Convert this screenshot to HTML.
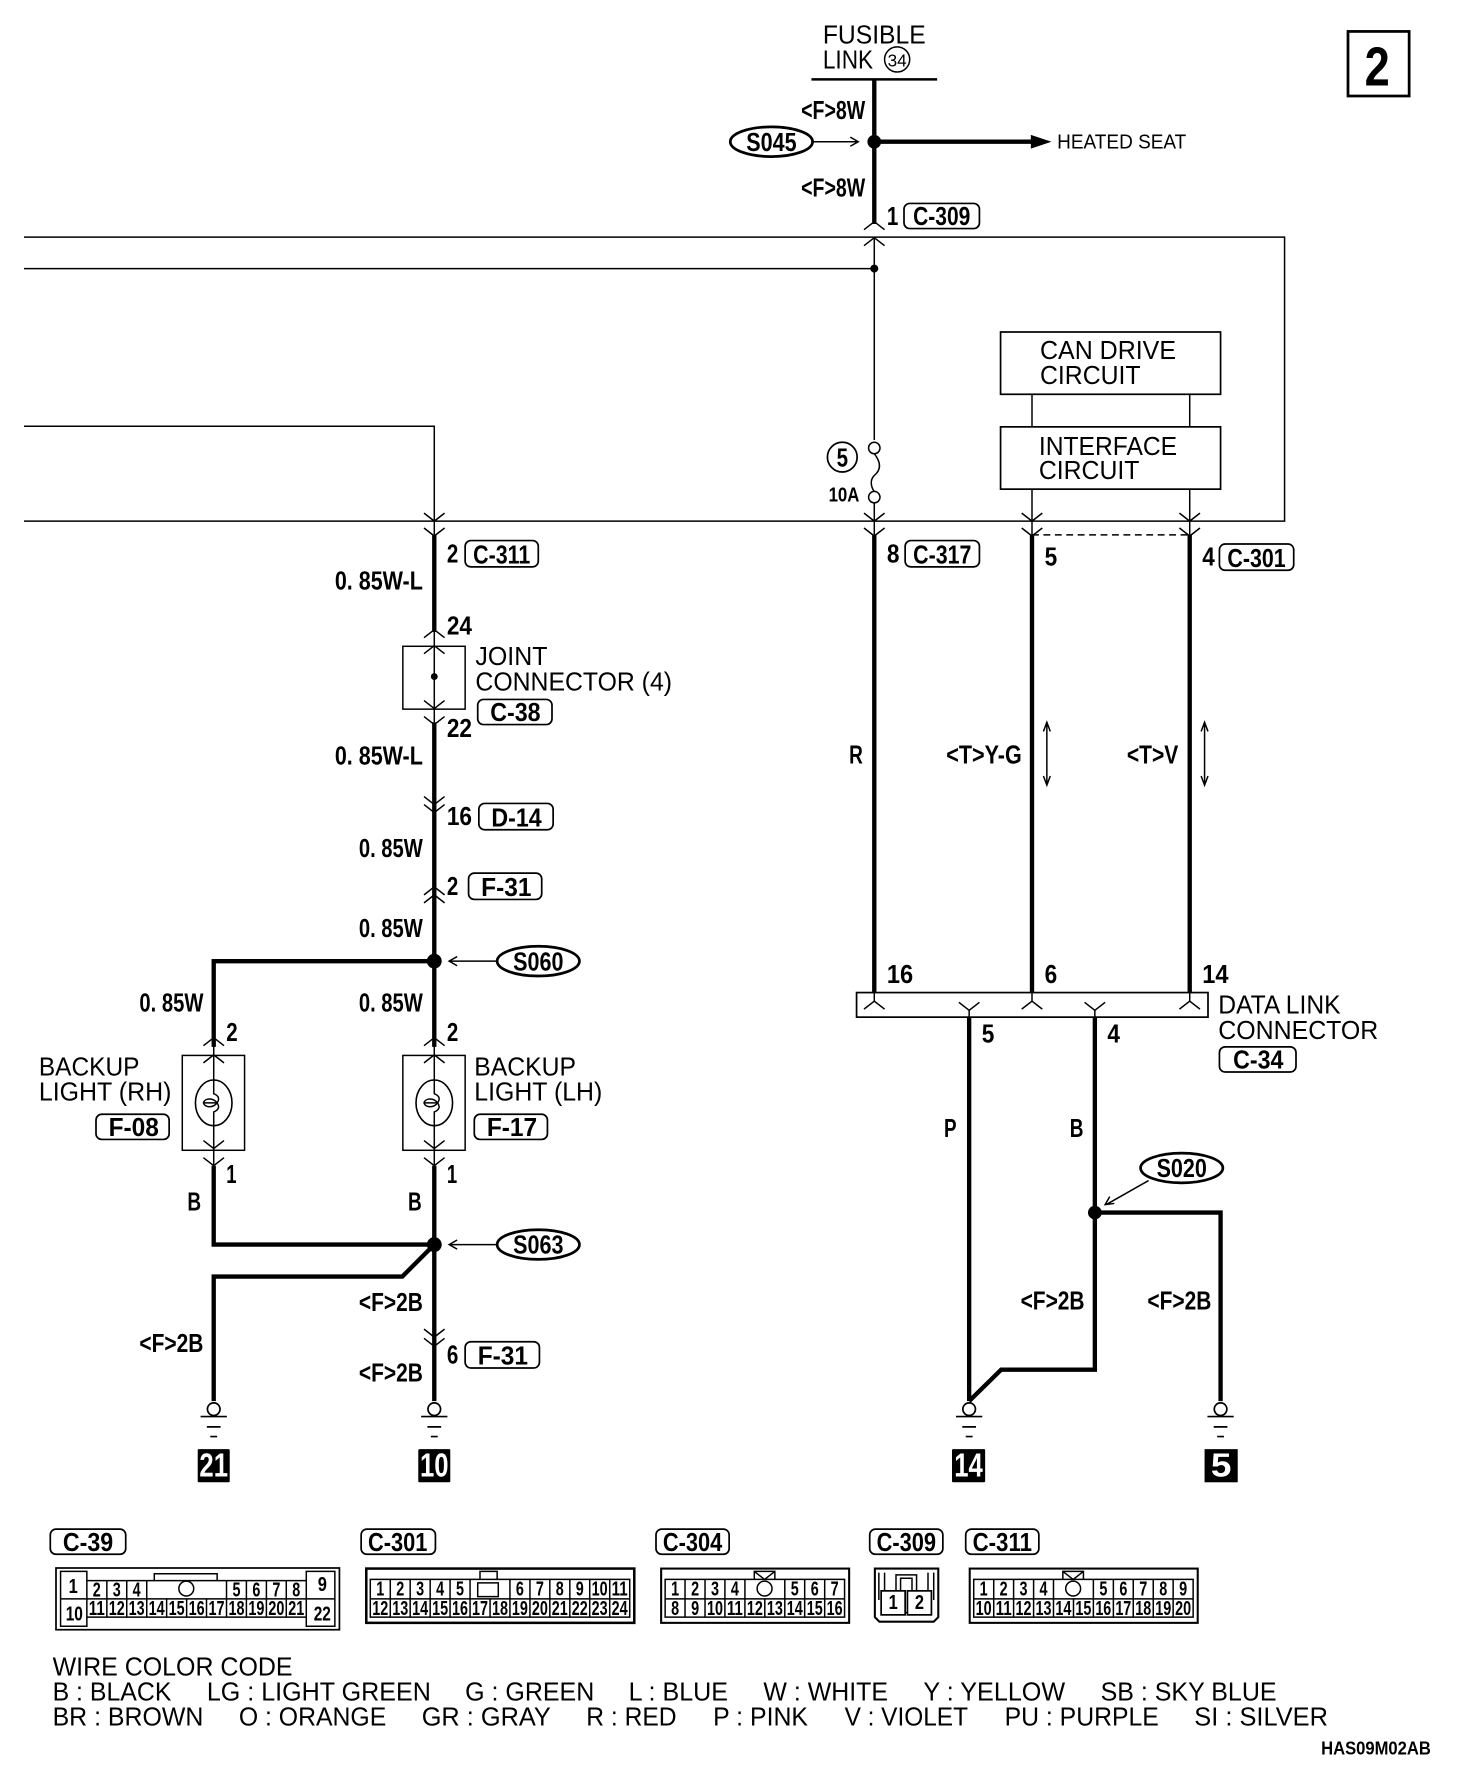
<!DOCTYPE html>
<html><head><meta charset="utf-8"><style>
html,body{margin:0;padding:0;background:#fff}
svg{display:block}
text{font-family:"Liberation Sans",sans-serif;fill:#000;stroke:none}
.r{font-size:22.5px}
.b{font-size:23px;font-weight:bold}
.c{font-size:18px;font-weight:bold;text-anchor:middle}
.t{fill:none;stroke:#000;stroke-width:1.3}
.w{fill:none;stroke:#000;stroke-width:3.8}
.bd{fill:#fff;stroke:#000;stroke-width:1.5}
.e{fill:#fff;stroke:#000;stroke-width:2.4}
</style></head><body>
<svg xmlns="http://www.w3.org/2000/svg" width="1472" height="1792" viewBox="0 0 1288 1568">
<defs>
<path id="u" d="M-9 7L0 0L9 7" fill="none" stroke="#000" stroke-width="1.3"/>
<path id="d" d="M-9 -7L0 0L9 -7" fill="none" stroke="#000" stroke-width="1.3"/>
<g id="g"><circle cx="0" cy="0" r="5.500" fill="#fff" stroke="#000" stroke-width="1.5"/><path d="M-11.500 6.500H11.500M-6 15.500H6M-3 24H3" stroke="#000" stroke-width="1.5" fill="none"/></g>
</defs>
<rect width="1288" height="1568" fill="#fff"/>

<!-- thin harness -->
<path class="t" d="M21 207.500H1124V456H21M21 235H765M21 373H380V456M765 207V385M903 345V373M1041 345V373M903 428V468M1041 428V468M765 440V468M380 456V468"/>
<path class="t" stroke-dasharray="6 4" d="M903 468H1041"/>
<circle cx="765" cy="235" r="3.5"/>

<!-- top -->
<rect x="1179.500" y="27.500" width="53.500" height="56.500" fill="#fff" stroke="#000" stroke-width="2.4"/>
<text x="1194" y="75" font-size="48" font-weight="bold" textLength="22" lengthAdjust="spacingAndGlyphs">2</text>
<text class="r" x="720" y="38" textLength="90" lengthAdjust="spacingAndGlyphs">FUSIBLE</text>
<text class="r" x="720" y="60" textLength="44" lengthAdjust="spacingAndGlyphs">LINK</text>
<circle cx="785" cy="52" r="11" fill="#fff" stroke="#000" stroke-width="1.3"/>
<text x="785" y="58" font-size="15" text-anchor="middle">34</text>
<path d="M710 69.500H820" stroke="#000" stroke-width="2.2"/>
<path class="w" d="M765 69V196M765 124H905"/>
<path d="M902 118L920 124L902 130Z"/>
<circle cx="765" cy="124" r="6"/>
<text class="b" x="701" y="104" textLength="56" lengthAdjust="spacingAndGlyphs">&lt;F&gt;8W</text>
<text class="b" x="701" y="172" textLength="56" lengthAdjust="spacingAndGlyphs">&lt;F&gt;8W</text>
<ellipse class="e" cx="675" cy="124" rx="36" ry="13"/>
<text class="b" x="653" y="132" textLength="44" lengthAdjust="spacingAndGlyphs">S045</text>
<path class="t" d="M711 124H750M744 120L751 124L744 128"/>
<text x="925" y="130" font-size="17.500" textLength="113" lengthAdjust="spacingAndGlyphs">HEATED SEAT</text>
<text class="b" x="776" y="197" textLength="10" lengthAdjust="spacingAndGlyphs">1</text>
<rect class="bd" x="791" y="178" width="66" height="22" rx="5"/>
<text class="b" x="799" y="197" textLength="50" lengthAdjust="spacingAndGlyphs">C-309</text>
<use href="#u" x="765" y="194"/><use href="#u" x="765" y="208"/>

<!-- circuits -->
<rect x="875.500" y="290.500" width="192.500" height="54.500" fill="#fff" stroke="#000" stroke-width="1.500"/>
<text class="r" x="910" y="314" textLength="119" lengthAdjust="spacingAndGlyphs">CAN DRIVE</text>
<text class="r" x="910" y="336" textLength="88" lengthAdjust="spacingAndGlyphs">CIRCUIT</text>
<rect x="875.500" y="373.500" width="192.500" height="54.500" fill="#fff" stroke="#000" stroke-width="1.500"/>
<text class="r" x="909" y="398" textLength="121" lengthAdjust="spacingAndGlyphs">INTERFACE</text>
<text class="r" x="909" y="419" textLength="88" lengthAdjust="spacingAndGlyphs">CIRCUIT</text>

<!-- fuse -->
<circle cx="765" cy="392" r="5" fill="#fff" stroke="#000" stroke-width="1.3"/>
<circle cx="765" cy="435" r="5" fill="#fff" stroke="#000" stroke-width="1.3"/>
<path class="t" d="M765 397C772 406 770 412 765 416C761 420 762 426 765 430"/>
<circle cx="737" cy="400" r="13" fill="#fff" stroke="#000" stroke-width="1.5"/>
<text class="b" x="732" y="408" textLength="10" lengthAdjust="spacingAndGlyphs">5</text>
<text x="725" y="439" font-size="18" font-weight="bold" textLength="27" lengthAdjust="spacingAndGlyphs">10A</text>

<!-- chevrons at harness bottom -->
<use href="#d" x="380" y="456"/><use href="#d" x="380" y="469"/>
<use href="#d" x="765" y="456"/><use href="#d" x="765" y="469"/>
<use href="#d" x="903" y="456"/><use href="#d" x="903" y="469"/>
<use href="#d" x="1041" y="456"/><use href="#d" x="1041" y="469"/>

<!-- right wires -->
<path class="w" d="M765 468V868M903 468V868M1041 468V868"/>
<text class="b" x="776" y="492" textLength="11" lengthAdjust="spacingAndGlyphs">8</text>
<rect class="bd" x="792" y="473" width="65" height="23" rx="5"/>
<text class="b" x="799" y="493" textLength="51" lengthAdjust="spacingAndGlyphs">C-317</text>
<text class="b" x="914" y="495" textLength="11" lengthAdjust="spacingAndGlyphs">5</text>
<text class="b" x="1052" y="495" textLength="11" lengthAdjust="spacingAndGlyphs">4</text>
<rect class="bd" x="1067" y="476" width="65" height="23" rx="5"/>
<text class="b" x="1074" y="496" textLength="51" lengthAdjust="spacingAndGlyphs">C-301</text>
<text class="b" x="743" y="668" textLength="12" lengthAdjust="spacingAndGlyphs">R</text>
<text class="b" x="828" y="668" textLength="66" lengthAdjust="spacingAndGlyphs">&lt;T&gt;Y-G</text>
<text class="b" x="986" y="668" textLength="45" lengthAdjust="spacingAndGlyphs">&lt;T&gt;V</text>
<path class="t" d="M916 632V687M913 640L916 632L919 640M913 679L916 687L919 679M1054 632V687M1051 640L1054 632L1057 640M1051 679L1054 687L1057 679"/>
<text class="b" x="776" y="860" textLength="23" lengthAdjust="spacingAndGlyphs">16</text>
<text class="b" x="914" y="860" textLength="11" lengthAdjust="spacingAndGlyphs">6</text>
<text class="b" x="1052" y="860" textLength="23" lengthAdjust="spacingAndGlyphs">14</text>

<!-- DLC -->
<rect x="749.500" y="868.500" width="307.500" height="21.500" fill="#fff" stroke="#000" stroke-width="1.500"/>
<use href="#u" x="765" y="876"/><use href="#u" x="903" y="876"/><use href="#u" x="1041" y="876"/>
<path class="t" d="M765 868V876M903 868V876M1041 868V876"/>
<use href="#d" x="848" y="884"/><use href="#d" x="958" y="884"/>
<path class="t" d="M848 884V890M958 884V890"/>
<text class="r" x="1066" y="887" textLength="107" lengthAdjust="spacingAndGlyphs">DATA LINK</text>
<text class="r" x="1066" y="909" textLength="140" lengthAdjust="spacingAndGlyphs">CONNECTOR</text>
<rect class="bd" x="1067" y="916" width="67" height="22" rx="5"/>
<text class="b" x="1079" y="935" textLength="44" lengthAdjust="spacingAndGlyphs">C-34</text>
<path class="w" d="M848 890V1226M958 890V1198.500H876L848 1226M958 1061H1068V1226"/>
<circle cx="958" cy="1061" r="6"/>
<text class="b" x="859" y="912" textLength="11" lengthAdjust="spacingAndGlyphs">5</text>
<text class="b" x="969" y="912" textLength="11" lengthAdjust="spacingAndGlyphs">4</text>
<text class="b" x="826" y="995" textLength="11" lengthAdjust="spacingAndGlyphs">P</text>
<text class="b" x="936" y="995" textLength="12" lengthAdjust="spacingAndGlyphs">B</text>
<ellipse class="e" cx="1034" cy="1022" rx="36" ry="13"/>
<text class="b" x="1012" y="1030" textLength="44" lengthAdjust="spacingAndGlyphs">S020</text>
<path class="t" d="M1005 1033L968 1054M971 1047L967 1054L975 1053"/>
<text class="b" x="893" y="1146" textLength="56" lengthAdjust="spacingAndGlyphs">&lt;F&gt;2B</text>
<text class="b" x="1004" y="1146" textLength="56" lengthAdjust="spacingAndGlyphs">&lt;F&gt;2B</text>
<use href="#g" x="848" y="1233"/><use href="#g" x="1068" y="1233"/>

<!-- left column -->
<path class="w" d="M380 468V553M380 632V916M380 1020V1226M380 841H187V916M187 1020V1089H380M380 1089L352 1117H187V1226"/>
<text class="b" x="391" y="492" textLength="10" lengthAdjust="spacingAndGlyphs">2</text>
<rect class="bd" x="407" y="473" width="64" height="23" rx="5"/>
<text class="b" x="414" y="493" textLength="50" lengthAdjust="spacingAndGlyphs">C-311</text>
<text class="b" x="293" y="516" textLength="77" lengthAdjust="spacingAndGlyphs">0. 85W-L</text>
<text class="b" x="391" y="555" textLength="22" lengthAdjust="spacingAndGlyphs">24</text>
<use href="#u" x="380" y="551"/>
<rect x="352.500" y="565.500" width="54.500" height="55" fill="#fff" stroke="#000" stroke-width="1.300"/>
<path class="t" d="M380 553V632"/>
<use href="#u" x="380" y="565"/><circle cx="380" cy="592" r="3"/><use href="#d" x="380" y="620"/><use href="#d" x="380" y="634"/>
<text class="r" x="416" y="582" textLength="63" lengthAdjust="spacingAndGlyphs">JOINT</text>
<text class="r" x="416" y="604" textLength="172" lengthAdjust="spacingAndGlyphs">CONNECTOR (4)</text>
<rect class="bd" x="418" y="612" width="65" height="22" rx="5"/>
<text class="b" x="429" y="631" textLength="44" lengthAdjust="spacingAndGlyphs">C-38</text>
<text class="b" x="391" y="645" textLength="22" lengthAdjust="spacingAndGlyphs">22</text>
<text class="b" x="293" y="669" textLength="77" lengthAdjust="spacingAndGlyphs">0. 85W-L</text>
<use href="#d" x="380" y="704"/><use href="#d" x="380" y="711"/>
<text class="b" x="391" y="722" textLength="22" lengthAdjust="spacingAndGlyphs">16</text>
<rect class="bd" x="419" y="703" width="65" height="23" rx="5"/>
<text class="b" x="430" y="723" textLength="44" lengthAdjust="spacingAndGlyphs">D-14</text>
<text class="b" x="314" y="750" textLength="56" lengthAdjust="spacingAndGlyphs">0. 85W</text>
<text class="b" x="391" y="783" textLength="10" lengthAdjust="spacingAndGlyphs">2</text>
<rect class="bd" x="410" y="764" width="64" height="23" rx="5"/>
<text class="b" x="421" y="784" textLength="44" lengthAdjust="spacingAndGlyphs">F-31</text>
<use href="#u" x="380" y="776"/><use href="#u" x="380" y="783"/>
<text class="b" x="314" y="820" textLength="56" lengthAdjust="spacingAndGlyphs">0. 85W</text>
<circle cx="380" cy="841" r="6.500"/>
<ellipse class="e" cx="471" cy="841" rx="36" ry="13"/>
<text class="b" x="449" y="849" textLength="44" lengthAdjust="spacingAndGlyphs">S060</text>
<path class="t" d="M435 841H393M400 837L393 841L400 845"/>
<text class="b" x="122" y="885" textLength="56" lengthAdjust="spacingAndGlyphs">0. 85W</text>
<text class="b" x="314" y="885" textLength="56" lengthAdjust="spacingAndGlyphs">0. 85W</text>
<text class="b" x="198" y="911" textLength="10" lengthAdjust="spacingAndGlyphs">2</text>
<text class="b" x="391" y="911" textLength="10" lengthAdjust="spacingAndGlyphs">2</text>

<!-- lamps -->
<rect x="159.500" y="923.500" width="54.500" height="83" fill="#fff" stroke="#000" stroke-width="1.300"/>
<rect x="352.500" y="923.500" width="54.500" height="83" fill="#fff" stroke="#000" stroke-width="1.300"/>
<path class="t" d="M187 915V1020M380 915V1020"/>
<use href="#u" x="187" y="908"/><use href="#u" x="187" y="923"/><use href="#d" x="187" y="1005"/><use href="#d" x="187" y="1020"/>
<use href="#u" x="380" y="908"/><use href="#u" x="380" y="923"/><use href="#d" x="380" y="1005"/><use href="#d" x="380" y="1020"/>
<ellipse cx="187" cy="965" rx="16" ry="20" fill="#fff" stroke="#000" stroke-width="1.400"/>
<ellipse cx="380" cy="965" rx="16" ry="20" fill="#fff" stroke="#000" stroke-width="1.400"/>
<path class="t" d="M187 945V957C192 959 192 962 190 965C192 968 192 971 187 973V985M190 965C186 960 179 961 178 965C179 969 186 970 190 965M178 965H190M380 945V957C385 959 385 962 383 965C385 968 385 971 380 973V985M383 965C379 960 372 961 371 965C372 969 379 970 383 965M371 965H383"/>
<text class="r" x="34" y="941" textLength="88" lengthAdjust="spacingAndGlyphs">BACKUP</text>
<text class="r" x="34" y="963" textLength="116" lengthAdjust="spacingAndGlyphs">LIGHT (RH)</text>
<rect class="bd" x="84" y="975" width="64" height="22" rx="5"/>
<text class="b" x="95" y="994" textLength="44" lengthAdjust="spacingAndGlyphs">F-08</text>
<text class="r" x="415" y="941" textLength="89" lengthAdjust="spacingAndGlyphs">BACKUP</text>
<text class="r" x="415" y="963" textLength="112" lengthAdjust="spacingAndGlyphs">LIGHT (LH)</text>
<rect class="bd" x="415" y="975" width="64" height="22" rx="5"/>
<text class="b" x="426" y="994" textLength="44" lengthAdjust="spacingAndGlyphs">F-17</text>
<text class="b" x="198" y="1035" textLength="9" lengthAdjust="spacingAndGlyphs">1</text>
<text class="b" x="391" y="1035" textLength="9" lengthAdjust="spacingAndGlyphs">1</text>
<text class="b" x="164" y="1059" textLength="12" lengthAdjust="spacingAndGlyphs">B</text>
<text class="b" x="357" y="1059" textLength="12" lengthAdjust="spacingAndGlyphs">B</text>
<circle cx="380" cy="1089" r="6.500"/>
<ellipse class="e" cx="471" cy="1089" rx="36" ry="13"/>
<text class="b" x="449" y="1097" textLength="44" lengthAdjust="spacingAndGlyphs">S063</text>
<path class="t" d="M435 1089H393M400 1085L393 1089L400 1093"/>
<text class="b" x="314" y="1147" textLength="56" lengthAdjust="spacingAndGlyphs">&lt;F&gt;2B</text>
<text class="b" x="122" y="1183" textLength="56" lengthAdjust="spacingAndGlyphs">&lt;F&gt;2B</text>
<text class="b" x="314" y="1209" textLength="56" lengthAdjust="spacingAndGlyphs">&lt;F&gt;2B</text>
<use href="#d" x="380" y="1170"/><use href="#d" x="380" y="1178"/>
<text class="b" x="391" y="1193" textLength="10" lengthAdjust="spacingAndGlyphs">6</text>
<rect class="bd" x="407" y="1174" width="65" height="23" rx="5"/>
<text class="b" x="418" y="1194" textLength="44" lengthAdjust="spacingAndGlyphs">F-31</text>
<use href="#g" x="187" y="1233"/><use href="#g" x="380" y="1233"/>

<!-- ground numbers -->
<rect x="173" y="1268" width="28" height="29" rx="1"/><text x="187" y="1292" font-size="29" font-weight="bold" text-anchor="middle" textLength="25" lengthAdjust="spacingAndGlyphs" style="fill:#fff">21</text>
<rect x="366" y="1268" width="28" height="29" rx="1"/><text x="380" y="1292" font-size="29" font-weight="bold" text-anchor="middle" textLength="25" lengthAdjust="spacingAndGlyphs" style="fill:#fff">10</text>
<rect x="833" y="1268" width="29" height="29" rx="1"/><text x="847.500" y="1292" font-size="29" font-weight="bold" text-anchor="middle" textLength="25" lengthAdjust="spacingAndGlyphs" style="fill:#fff">14</text>
<rect x="1054" y="1268" width="29" height="29"/><text x="1068.500" y="1292" font-size="29" font-weight="bold" text-anchor="middle" textLength="18" lengthAdjust="spacingAndGlyphs" style="fill:#fff">5</text>

<!-- connector badges -->
<rect class="bd" x="44" y="1338" width="66" height="22" rx="5"/><text class="b" x="55" y="1357" textLength="44" lengthAdjust="spacingAndGlyphs">C-39</text>
<rect class="bd" x="316" y="1338" width="65" height="22" rx="5"/><text class="b" x="322" y="1357" textLength="52" lengthAdjust="spacingAndGlyphs">C-301</text>
<rect class="bd" x="574" y="1338" width="64" height="22" rx="5"/><text class="b" x="580" y="1357" textLength="52" lengthAdjust="spacingAndGlyphs">C-304</text>
<rect class="bd" x="761" y="1338" width="64" height="22" rx="5"/><text class="b" x="767" y="1357" textLength="52" lengthAdjust="spacingAndGlyphs">C-309</text>
<rect class="bd" x="845" y="1338" width="64" height="22" rx="5"/><text class="b" x="851" y="1357" textLength="52" lengthAdjust="spacingAndGlyphs">C-311</text>

<!-- C-39 -->
<rect x="49" y="1372" width="248" height="54" fill="#fff" stroke="#000" stroke-width="1.500"/>
<path class="t" stroke-width="2" d="M53 1375H76V1423H53ZM268 1375H293V1423H268ZM53 1399H293M76 1383H268M76 1415H268M93.500 1383V1415M110.900 1383V1415M128.400 1383V1415M145.800 1399V1415M163.300 1399V1415M180.700 1399V1415M198.200 1383V1415M215.600 1383V1415M233.100 1383V1415M250.500 1383V1415M135 1383V1377H190V1383"/>
<circle cx="163" cy="1390" r="6.500" fill="#fff" stroke="#000" stroke-width="1.300"/>
<g class="cg">
<text class="c" x="64" y="1394" textLength="8" lengthAdjust="spacingAndGlyphs">1</text>
<text class="c" x="65" y="1418" textLength="15" lengthAdjust="spacingAndGlyphs">10</text>
<text class="c" x="282" y="1392" textLength="8" lengthAdjust="spacingAndGlyphs">9</text>
<text class="c" x="282" y="1418" textLength="15" lengthAdjust="spacingAndGlyphs">22</text>
<text class="c" x="84.700" y="1397" textLength="7" lengthAdjust="spacingAndGlyphs">2</text>
<text class="c" x="102.200" y="1397" textLength="7" lengthAdjust="spacingAndGlyphs">3</text>
<text class="c" x="119.600" y="1397" textLength="7" lengthAdjust="spacingAndGlyphs">4</text>
<text class="c" x="206.900" y="1397" textLength="7" lengthAdjust="spacingAndGlyphs">5</text>
<text class="c" x="224.300" y="1397" textLength="7" lengthAdjust="spacingAndGlyphs">6</text>
<text class="c" x="241.800" y="1397" textLength="7" lengthAdjust="spacingAndGlyphs">7</text>
<text class="c" x="259.200" y="1397" textLength="7" lengthAdjust="spacingAndGlyphs">8</text>
<text class="c" x="84.700" y="1413" textLength="14" lengthAdjust="spacingAndGlyphs">11</text>
<text class="c" x="102.200" y="1413" textLength="14" lengthAdjust="spacingAndGlyphs">12</text>
<text class="c" x="119.600" y="1413" textLength="14" lengthAdjust="spacingAndGlyphs">13</text>
<text class="c" x="137.100" y="1413" textLength="14" lengthAdjust="spacingAndGlyphs">14</text>
<text class="c" x="154.500" y="1413" textLength="14" lengthAdjust="spacingAndGlyphs">15</text>
<text class="c" x="172" y="1413" textLength="14" lengthAdjust="spacingAndGlyphs">16</text>
<text class="c" x="189.400" y="1413" textLength="14" lengthAdjust="spacingAndGlyphs">17</text>
<text class="c" x="206.900" y="1413" textLength="14" lengthAdjust="spacingAndGlyphs">18</text>
<text class="c" x="224.300" y="1413" textLength="14" lengthAdjust="spacingAndGlyphs">19</text>
<text class="c" x="241.800" y="1413" textLength="14" lengthAdjust="spacingAndGlyphs">20</text>
<text class="c" x="259.200" y="1413" textLength="14" lengthAdjust="spacingAndGlyphs">21</text>
</g>

<!-- C-301 -->
<rect x="320.500" y="1372.500" width="234.500" height="47.500" fill="#fff" stroke="#000" stroke-width="2.200"/>
<path class="t" stroke-width="1.600" d="M324 1382H551V1415H324ZM324 1399H551M341.500 1382V1415M358.900 1382V1415M376.400 1382V1415M393.800 1382V1415M411.300 1382V1415M428.800 1399V1415M446.200 1382V1415M463.700 1382V1415M481.100 1382V1415M498.600 1382V1415M516 1382V1415M533.500 1382V1415M420 1382V1375H435V1382M418 1385H436V1397H418Z"/>
<text class="c" x="332.700" y="1396" textLength="7" lengthAdjust="spacingAndGlyphs">1</text>
<text class="c" x="350.200" y="1396" textLength="7" lengthAdjust="spacingAndGlyphs">2</text>
<text class="c" x="367.600" y="1396" textLength="7" lengthAdjust="spacingAndGlyphs">3</text>
<text class="c" x="385.100" y="1396" textLength="7" lengthAdjust="spacingAndGlyphs">4</text>
<text class="c" x="402.500" y="1396" textLength="7" lengthAdjust="spacingAndGlyphs">5</text>
<text class="c" x="454.900" y="1396" textLength="7" lengthAdjust="spacingAndGlyphs">6</text>
<text class="c" x="472.400" y="1396" textLength="7" lengthAdjust="spacingAndGlyphs">7</text>
<text class="c" x="489.800" y="1396" textLength="7" lengthAdjust="spacingAndGlyphs">8</text>
<text class="c" x="507.300" y="1396" textLength="7" lengthAdjust="spacingAndGlyphs">9</text>
<text class="c" x="524.700" y="1396" textLength="14" lengthAdjust="spacingAndGlyphs">10</text>
<text class="c" x="542.200" y="1396" textLength="14" lengthAdjust="spacingAndGlyphs">11</text>
<text class="c" x="332.700" y="1413" textLength="14" lengthAdjust="spacingAndGlyphs">12</text>
<text class="c" x="350.200" y="1413" textLength="14" lengthAdjust="spacingAndGlyphs">13</text>
<text class="c" x="367.600" y="1413" textLength="14" lengthAdjust="spacingAndGlyphs">14</text>
<text class="c" x="385.100" y="1413" textLength="14" lengthAdjust="spacingAndGlyphs">15</text>
<text class="c" x="402.500" y="1413" textLength="14" lengthAdjust="spacingAndGlyphs">16</text>
<text class="c" x="420" y="1413" textLength="14" lengthAdjust="spacingAndGlyphs">17</text>
<text class="c" x="437.500" y="1413" textLength="14" lengthAdjust="spacingAndGlyphs">18</text>
<text class="c" x="454.900" y="1413" textLength="14" lengthAdjust="spacingAndGlyphs">19</text>
<text class="c" x="472.400" y="1413" textLength="14" lengthAdjust="spacingAndGlyphs">20</text>
<text class="c" x="489.800" y="1413" textLength="14" lengthAdjust="spacingAndGlyphs">21</text>
<text class="c" x="507.300" y="1413" textLength="14" lengthAdjust="spacingAndGlyphs">22</text>
<text class="c" x="524.700" y="1413" textLength="14" lengthAdjust="spacingAndGlyphs">23</text>
<text class="c" x="542.200" y="1413" textLength="14" lengthAdjust="spacingAndGlyphs">24</text>

<!-- C-304 -->
<rect x="578.500" y="1372.500" width="164.500" height="47.500" fill="#fff" stroke="#000" stroke-width="1.800"/>
<path class="t" stroke-width="1.500" d="M582 1382H739V1415H582ZM582 1399H739M599.400 1382V1415M616.900 1382V1415M634.300 1382V1415M651.800 1382V1415M669.200 1399V1415M686.700 1382V1415M704.100 1382V1415M721.600 1382V1415M660 1382V1375H678V1382M660 1375L669 1382L678 1375"/>
<circle cx="669" cy="1390" r="6.500" fill="#fff" stroke="#000" stroke-width="1.300"/>
<text class="c" x="590.700" y="1396" textLength="7" lengthAdjust="spacingAndGlyphs">1</text>
<text class="c" x="608.200" y="1396" textLength="7" lengthAdjust="spacingAndGlyphs">2</text>
<text class="c" x="625.600" y="1396" textLength="7" lengthAdjust="spacingAndGlyphs">3</text>
<text class="c" x="643" y="1396" textLength="7" lengthAdjust="spacingAndGlyphs">4</text>
<text class="c" x="695.400" y="1396" textLength="7" lengthAdjust="spacingAndGlyphs">5</text>
<text class="c" x="712.900" y="1396" textLength="7" lengthAdjust="spacingAndGlyphs">6</text>
<text class="c" x="730.300" y="1396" textLength="7" lengthAdjust="spacingAndGlyphs">7</text>
<text class="c" x="590.700" y="1413" textLength="7" lengthAdjust="spacingAndGlyphs">8</text>
<text class="c" x="608.200" y="1413" textLength="7" lengthAdjust="spacingAndGlyphs">9</text>
<text class="c" x="625.600" y="1413" textLength="14" lengthAdjust="spacingAndGlyphs">10</text>
<text class="c" x="643" y="1413" textLength="14" lengthAdjust="spacingAndGlyphs">11</text>
<text class="c" x="660.500" y="1413" textLength="14" lengthAdjust="spacingAndGlyphs">12</text>
<text class="c" x="678" y="1413" textLength="14" lengthAdjust="spacingAndGlyphs">13</text>
<text class="c" x="695.400" y="1413" textLength="14" lengthAdjust="spacingAndGlyphs">14</text>
<text class="c" x="712.900" y="1413" textLength="14" lengthAdjust="spacingAndGlyphs">15</text>
<text class="c" x="730.300" y="1413" textLength="14" lengthAdjust="spacingAndGlyphs">16</text>

<!-- C-309 -->
<path fill="#fff" stroke="#000" stroke-width="1.800" d="M765.500 1372.500H821V1415L817 1419H769.500L765.500 1415Z"/>
<path class="t" stroke-width="1.500" d="M769 1376V1400M774 1376V1392M812 1376V1392M817 1376V1400M784 1392V1378H802V1392M788 1392V1381H798V1392M771 1411H815"/>
<rect x="771" y="1392" width="21" height="21" fill="#fff" stroke="#000" stroke-width="1.500"/>
<rect x="794" y="1392" width="21" height="21" fill="#fff" stroke="#000" stroke-width="1.500"/>
<text class="c" x="781.500" y="1408" textLength="8" lengthAdjust="spacingAndGlyphs">1</text>
<text class="c" x="804.500" y="1408" textLength="8" lengthAdjust="spacingAndGlyphs">2</text>

<!-- C-311 -->
<rect x="848.500" y="1372.500" width="199.500" height="47.500" fill="#fff" stroke="#000" stroke-width="1.800"/>
<path class="t" stroke-width="1.500" d="M852 1382H1044V1415H852ZM852 1399H1044M869.500 1382V1415M886.900 1382V1415M904.400 1382V1415M921.800 1382V1415M939.300 1399V1415M956.700 1382V1415M974.200 1382V1415M991.600 1382V1415M1009.100 1382V1415M1026.500 1382V1415M930 1382V1375H948V1382M930 1375L939 1382L948 1375"/>
<circle cx="939" cy="1390" r="6.500" fill="#fff" stroke="#000" stroke-width="1.300"/>
<text class="c" x="860.700" y="1396" textLength="7" lengthAdjust="spacingAndGlyphs">1</text>
<text class="c" x="878.200" y="1396" textLength="7" lengthAdjust="spacingAndGlyphs">2</text>
<text class="c" x="895.600" y="1396" textLength="7" lengthAdjust="spacingAndGlyphs">3</text>
<text class="c" x="913.100" y="1396" textLength="7" lengthAdjust="spacingAndGlyphs">4</text>
<text class="c" x="965.400" y="1396" textLength="7" lengthAdjust="spacingAndGlyphs">5</text>
<text class="c" x="982.900" y="1396" textLength="7" lengthAdjust="spacingAndGlyphs">6</text>
<text class="c" x="1000.300" y="1396" textLength="7" lengthAdjust="spacingAndGlyphs">7</text>
<text class="c" x="1017.800" y="1396" textLength="7" lengthAdjust="spacingAndGlyphs">8</text>
<text class="c" x="1035.200" y="1396" textLength="7" lengthAdjust="spacingAndGlyphs">9</text>
<text class="c" x="860.700" y="1413" textLength="14" lengthAdjust="spacingAndGlyphs">10</text>
<text class="c" x="878.200" y="1413" textLength="14" lengthAdjust="spacingAndGlyphs">11</text>
<text class="c" x="895.600" y="1413" textLength="14" lengthAdjust="spacingAndGlyphs">12</text>
<text class="c" x="913.100" y="1413" textLength="14" lengthAdjust="spacingAndGlyphs">13</text>
<text class="c" x="930.500" y="1413" textLength="14" lengthAdjust="spacingAndGlyphs">14</text>
<text class="c" x="948" y="1413" textLength="14" lengthAdjust="spacingAndGlyphs">15</text>
<text class="c" x="965.400" y="1413" textLength="14" lengthAdjust="spacingAndGlyphs">16</text>
<text class="c" x="982.900" y="1413" textLength="14" lengthAdjust="spacingAndGlyphs">17</text>
<text class="c" x="1000.300" y="1413" textLength="14" lengthAdjust="spacingAndGlyphs">18</text>
<text class="c" x="1017.800" y="1413" textLength="14" lengthAdjust="spacingAndGlyphs">19</text>
<text class="c" x="1035.200" y="1413" textLength="14" lengthAdjust="spacingAndGlyphs">20</text>

<!-- legend -->
<text class="r" x="46" y="1466" textLength="210" lengthAdjust="spacingAndGlyphs">WIRE COLOR CODE</text>
<text class="r" x="46" y="1488" textLength="104" lengthAdjust="spacingAndGlyphs">B : BLACK</text>
<text class="r" x="181" y="1488" textLength="196" lengthAdjust="spacingAndGlyphs">LG : LIGHT GREEN</text>
<text class="r" x="407" y="1488" textLength="113" lengthAdjust="spacingAndGlyphs">G : GREEN</text>
<text class="r" x="550" y="1488" textLength="87" lengthAdjust="spacingAndGlyphs">L : BLUE</text>
<text class="r" x="668" y="1488" textLength="109" lengthAdjust="spacingAndGlyphs">W : WHITE</text>
<text class="r" x="808" y="1488" textLength="124" lengthAdjust="spacingAndGlyphs">Y : YELLOW</text>
<text class="r" x="963" y="1488" textLength="154" lengthAdjust="spacingAndGlyphs">SB : SKY BLUE</text>
<text class="r" x="46" y="1510" textLength="132" lengthAdjust="spacingAndGlyphs">BR : BROWN</text>
<text class="r" x="209" y="1510" textLength="129" lengthAdjust="spacingAndGlyphs">O : ORANGE</text>
<text class="r" x="369" y="1510" textLength="113" lengthAdjust="spacingAndGlyphs">GR : GRAY</text>
<text class="r" x="513" y="1510" textLength="79" lengthAdjust="spacingAndGlyphs">R : RED</text>
<text class="r" x="624" y="1510" textLength="83" lengthAdjust="spacingAndGlyphs">P : PINK</text>
<text class="r" x="739" y="1510" textLength="108" lengthAdjust="spacingAndGlyphs">V : VIOLET</text>
<text class="r" x="879" y="1510" textLength="135" lengthAdjust="spacingAndGlyphs">PU : PURPLE</text>
<text class="r" x="1045" y="1510" textLength="117" lengthAdjust="spacingAndGlyphs">SI : SILVER</text>
<text x="1156" y="1535" font-size="16.500" font-weight="bold" textLength="96" lengthAdjust="spacingAndGlyphs">HAS09M02AB</text>
</svg>
</body></html>
